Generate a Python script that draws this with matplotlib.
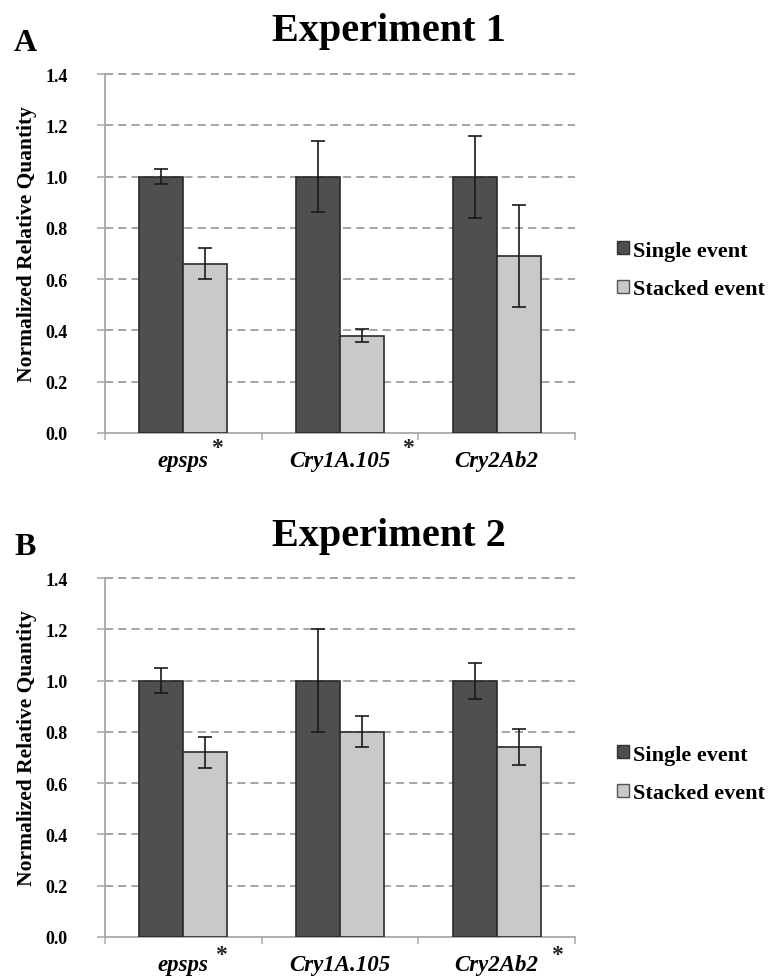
import matplotlib
matplotlib.use("Agg")
import matplotlib.pyplot as plt
from matplotlib.patches import Patch
import numpy as np

plt.rcParams['font.family'] = ['Liberation Serif', 'DejaVu Serif']

genes = ['epsps', 'Cry1A.105', 'Cry2Ab2']
series = ['Single event', 'Stacked event']

# Experiment 1
exp1_single = [1.00, 1.00, 1.00]
exp1_single_err = [0.03, 0.14, 0.16]
exp1_stacked = [0.66, 0.38, 0.69]
exp1_stacked_err = [0.06, 0.025, 0.20]
exp1_signif = ['epsps', 'Cry1A.105']

# Experiment 2
exp2_single = [1.00, 1.00, 1.00]
exp2_single_err = [0.05, 0.20, 0.07]
exp2_stacked = [0.72, 0.80, 0.74]
exp2_stacked_err = [0.06, 0.06, 0.07]
exp2_signif = ['epsps', 'Cry2Ab2']

yticks = [0.0, 0.2, 0.4, 0.6, 0.8, 1.0, 1.2, 1.4]

dark = '#4f4f4f'
light = '#c9c9c9'
edge = '#2a2a2a'
axis_gray = '#a8a8a8'

W, H = 772, 979
fig = plt.figure(figsize=(W / 100, H / 100), dpi=100)


def panel(rect, single, single_err, stacked, stacked_err, signif, title, letter,
          title_base, letter_base, legend_y, star_dy, star_dx):
    ax = fig.add_axes(rect)
    x = np.arange(len(genes))
    bw = 0.28
    ax.bar(x - bw / 2, single, bw, color=dark, edgecolor=edge, linewidth=1.2,
           yerr=single_err, error_kw=dict(ecolor='#1a1a1a', elinewidth=1.2, capsize=4.8, capthick=1.2),
           zorder=3, label=series[0])
    ax.bar(x + bw / 2, stacked, bw, color=light, edgecolor=edge, linewidth=1.2,
           yerr=stacked_err, error_kw=dict(ecolor='#1a1a1a', elinewidth=1.2, capsize=4.8, capthick=1.2),
           zorder=3, label=series[1])
    ax.set_xlim(-0.5, len(genes) - 0.5)
    ax.set_ylim(0, 1.4)
    ax.set_yticks(yticks)
    ax.set_yticklabels(['%.1f' % v for v in yticks], fontsize=13, fontweight='bold')
    for v in yticks[1:]:
        ax.axhline(v, color='#a5a5a5', lw=1.4, linestyle=(0, (4.2, 2.6)), zorder=1, clip_on=False)
    ax.set_xticks(x)
    ax.set_xticklabels(genes, fontsize=16.5, fontweight='bold', fontstyle='italic')
    ax.set_xticks(np.arange(-0.5, len(genes)), minor=True)
    ax.tick_params(axis='x', which='major', length=0, pad=12)
    ax.tick_params(axis='x', which='minor', length=5, width=1.1, color=axis_gray, direction='out')
    ax.tick_params(axis='y', length=6, width=1.1, color=axis_gray, pad=21)
    for s in ['top', 'right']:
        ax.spines[s].set_visible(False)
    for s in ['left', 'bottom']:
        ax.spines[s].set_color(axis_gray)
        ax.spines[s].set_linewidth(1.3)
    ax.set_ylabel('Normalized Relative Quantity', fontsize=15.5, fontweight='bold')
    ax.yaxis.set_label_coords(-0.145, 0.53)
    # significance stars
    for g in signif:
        i = genes.index(g)
        ax.annotate('*', xy=(i, 0), xycoords=('data', 'axes fraction'),
                    xytext=(star_dx[i], star_dy), textcoords='offset pixels',
                    ha='center', va='center', fontsize=17, fontweight='bold', color='#222222')
    fig.text(389 / W, 1 - title_base / H, title, ha='center', va='baseline',
             fontsize=29, fontweight='bold')
    fig.text(14 / W, 1 - letter_base / H, letter, ha='left', va='baseline',
             fontsize=23, fontweight='bold')
    handles = [Patch(facecolor=dark, edgecolor='#333333', linewidth=1.0),
               Patch(facecolor=light, edgecolor='#555555', linewidth=1.0)]
    fig.legend(handles, series, loc='center left',
               bbox_to_anchor=(617 / W, 1 - legend_y / H),
               frameon=False, prop=dict(weight='bold', size=16),
               handlelength=0.52, handleheight=0.52, handletextpad=0.2,
               labelspacing=0.85, borderpad=0, borderaxespad=0)
    return ax


left = 105 / W
width = 470 / W
axA = panel([left, 1 - 434 / H, width, 359 / H], exp1_single, exp1_single_err,
            exp1_stacked, exp1_stacked_err, exp1_signif, 'Experiment 1', 'A',
            41, 51, 271, -14, {0: 34, 1: 68, 2: 60})
axB = panel([left, 1 - 938 / H, width, 359 / H], exp2_single, exp2_single_err,
            exp2_stacked, exp2_stacked_err, exp2_signif, 'Experiment 2', 'B',
            546, 555, 775, -18, {0: 38, 1: 67, 2: 60})

fig.savefig('out.png', dpi=100)
